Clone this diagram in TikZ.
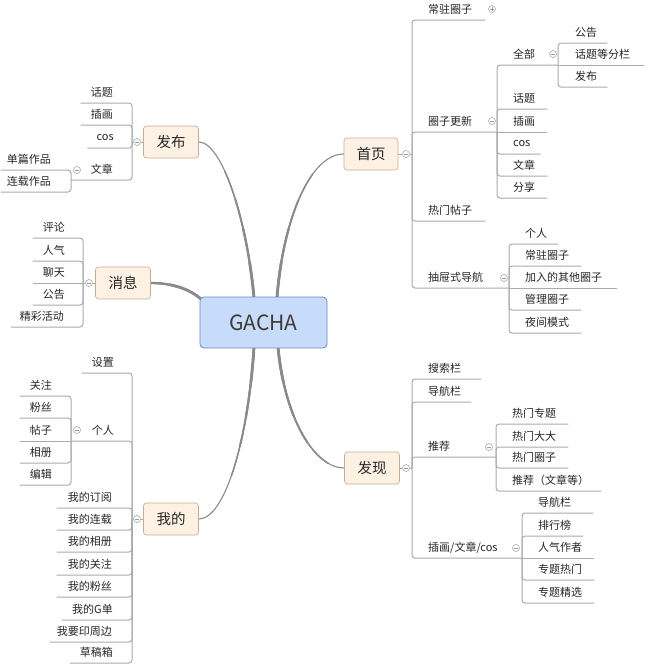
\documentclass[tikz,border=0pt]{standalone}
\usepackage{fontspec}
\setmainfont{Noto Sans CJK SC}
\usepackage{tikz}
\usetikzlibrary{positioning,backgrounds}
\definecolor{rootfill}{HTML}{C7DCFB}
\definecolor{rootline}{HTML}{7089BA}
\definecolor{rootink}{HTML}{3F3A36}
\definecolor{topicfill}{HTML}{FDF1E4}
\definecolor{topicline}{HTML}{C9AD8F}
\definecolor{branchgray}{HTML}{ABABAB}
\definecolor{trunkgray}{HTML}{8A8A8A}
\definecolor{foldgray}{HTML}{9A9A9A}
\definecolor{leafink}{HTML}{262626}

\begin{document}
\begin{tikzpicture}[x=1pt,y=-1pt,
 rootbox/.style={draw=rootline,fill=rootfill,rounded corners=4pt,line width=.8pt,minimum width=127pt,minimum height=51pt,text=rootink,font=\fontsize{21}{24}\selectfont},
 topicbox/.style={draw=topicline,fill=topicfill,rounded corners=3pt,line width=.6pt,minimum width=55pt,minimum height=32pt,text=leafink,font=\fontsize{14.5}{16}\selectfont},
 leaf/.style={inner xsep=0pt,inner ysep=0pt,minimum height=21pt,text=leafink,font=\fontsize{11}{12}\selectfont},
 rl/.style={leaf,anchor=south west},
 ll/.style={leaf,anchor=south east},
 br/.style={draw=branchgray,line width=1pt,rounded corners=3pt},
 trunk/.style={draw=trunkgray,line width=1.1pt,line cap=round,
  preaction={draw=trunkgray,line width=1.5pt,line cap=round,dash pattern=on 130pt off 2000pt},
  preaction={draw=trunkgray,line width=1.9pt,line cap=round,dash pattern=on 100pt off 2000pt},
  preaction={draw=trunkgray,line width=2.3pt,line cap=round,dash pattern=on 70pt off 2000pt},
  preaction={draw=trunkgray,line width=2.8pt,line cap=round,dash pattern=on 35pt off 2000pt}},
 foldc/.style={circle,draw=foldgray,fill=white,line width=.5pt,inner sep=0pt,minimum size=7pt,
  path picture={\draw[foldgray,line width=.5pt] ([xshift=-2pt]path picture bounding box.center) -- ([xshift=2pt]path picture bounding box.center);}},
 unfoldc/.style={foldc,
  path picture={\draw[foldgray,line width=.5pt] ([xshift=-2pt]path picture bounding box.center) -- ([xshift=2pt]path picture bounding box.center)
   ([yshift=-2pt]path picture bounding box.center) -- ([yshift=2pt]path picture bounding box.center);}}]
\useasboundingbox (0,0) rectangle (656,664);

% centre and main topics
\node[rootbox] (gacha) at (263.5,322.5) {GACHA};
\node[topicbox,minimum width=54pt] (sy) at (371,154) {首页};
\node[topicbox] (fx) at (372,468) {发现};
\node[topicbox] (fb) at (171,142) {发布};
\node[topicbox] (xx) at (123,283) {消息};
\node[topicbox] (wd) at (171,519) {我的};
\begin{scope}[on background layer]
\fill[white] (0,0) rectangle (656,664);
\draw[trunk] ([xshift=13.5pt,yshift=-1pt]gacha.north) .. controls (283,220) and (310,154) .. (sy.west);
\draw[trunk] ([xshift=14.5pt,yshift=1pt]gacha.south) .. controls (285,420) and (315,468) .. (fx.west);
\draw[trunk] ([xshift=-9.5pt,yshift=-1pt]gacha.north) .. controls (247,220) and (222,142) .. (fb.east);
\draw[trunk] ([xshift=-9.5pt,yshift=1pt]gacha.south) .. controls (248,440) and (225,519) .. (wd.east);
\draw[trunk] ([shift={(2pt,-3pt)}]gacha.north west) .. controls (190,289) and (172,283) .. (xx.east);
\end{scope}

% fold circles and junctions
\node[foldc] (syc) at (406,154) {};
\node[foldc] (fxc) at (406,468) {};
\node[foldc] (fbc) at (137,142) {};
\node[foldc] (xxc) at (89,283) {};
\node[foldc] (wdc) at (137,519) {};
\coordinate (syj) at (412,154);
\coordinate (fxj) at (412,468);
\coordinate (fbj) at (132,142);
\coordinate (xxj) at (83,283);
\coordinate (wdj) at (132,519);
\draw[br] (sy.east) -- (syc.west) (syc.east) -- (syj);
\draw[br] (fx.east) -- (fxc.west) (fxc.east) -- (fxj);
\draw[br] (fb.west) -- (fbc.east) (fbc.west) -- (fbj);
\draw[br] (xx.west) -- (xxc.east) (xxc.west) -- (xxj);
\draw[br] (wd.west) -- (wdc.east) (wdc.west) -- (wdj);

% 首页
\node[rl] (cz) at (428,20) {常驻圈子};
\node[rl] (qz) at (428,132) {圈子更新};
\node[rl] (rt) at (428,221) {热门帖子};
\node[rl] (ct) at (428,288) {抽屉式导航};
\node[unfoldc] (czc) at (492,9) {};
\node[foldc] (qzc) at (492,121) {};
\node[foldc] (ctc) at (504,278) {};
\coordinate (qzj) at (497,132);
\coordinate (ctj) at (509,288);
\draw[br] (syj) |- ([xshift=13pt]cz.south east);
\draw[br] (syj) |- (qzj);
\draw[br] (syj) |- ([xshift=13pt]rt.south east);
\draw[br] (syj) |- (ctj);

\node[rl] (qb) at (513,65) {全部};
\node[rl] (ht) at (513,109) {话题};
\node[rl] (ch) at (513,132) {插画};
\node[rl] (cs) at (513,154) {cos};
\node[rl] (wz) at (513,176) {文章};
\node[rl] (fx1) at (513,198) {分享};
\node[foldc] (qbc) at (553,54) {};
\coordinate (qbj) at (558,65);
\draw[br] (qzj) |- (qbj);
\draw[br] (qzj) |- ([xshift=12pt]ht.south east);
\draw[br] (qzj) -- ([xshift=12pt]ch.south east);
\draw[br] (qzj) |- ([xshift=10pt]cs.south east);
\draw[br] (qzj) |- ([xshift=12pt]wz.south east);
\draw[br] (qzj) |- ([xshift=12pt]fx1.south east);

\node[rl] (gg) at (575,43) {公告};
\node[rl] (fl) at (575,65) {话题等分栏};
\node[rl] (fb1) at (575,87) {发布};
\draw[br] (qbj) |- ([xshift=10pt]gg.south east);
\draw[br] (qbj) -- ([xshift=14pt]fl.south east);
\draw[br] (qbj) |- ([xshift=10pt]fb1.south east);

\node[rl] (gr) at (525,244) {个人};
\node[rl] (cz1) at (525,266) {常驻圈子};
\node[rl] (jr) at (525,288) {加入的其他圈子};
\node[rl] (gl) at (525,310) {管理圈子};
\node[rl] (yj) at (525,333) {夜间模式};
\draw[br] (ctj) |- ([xshift=11pt]gr.south east);
\draw[br] (ctj) |- ([xshift=12pt]cz1.south east);
\draw[br] (ctj) -- ([xshift=15pt]jr.south east);
\draw[br] (ctj) |- ([xshift=12pt]gl.south east);
\draw[br] (ctj) |- ([xshift=12pt]yj.south east);

% 发现
\node[rl] (ss) at (428,379) {搜索栏};
\node[rl] (dh) at (428,402) {导航栏};
\node[rl] (tj) at (428,457) {推荐};
\node[rl] (cw) at (428,558) {插画/文章/cos};
\node[foldc] (tjc) at (489,447) {};
\node[foldc] (cwc) at (516,548) {};
\coordinate (tjj) at (496,457);
\coordinate (cwj) at (522,558);
\draw[br] (fxj) |- ([xshift=20pt]ss.south east);
\draw[br] (fxj) |- ([xshift=10pt]dh.south east);
\draw[br] (fxj) |- (tjj);
\draw[br] (fxj) |- (cwj);

\node[rl] (rz) at (512,424) {热门专题};
\node[rl] (rd) at (512,447) {热门大大};
\node[rl] (rq) at (512,468) {热门圈子};
\node[rl] (tw) at (512,491) {推荐（文章等）};
\draw[br] (tjj) |- ([xshift=12pt]rz.south east);
\draw[br] (tjj) |- ([xshift=12pt]rd.south east);
\draw[br] (tjj) |- ([xshift=12pt]rq.south east);
\draw[br] (tjj) |- ([xshift=12pt]tw.south east);

\node[rl] (dh1) at (538,513) {导航栏};
\node[rl] (ph) at (538,536) {排行榜};
\node[rl] (rq1) at (538,558) {人气作者};
\node[rl] (zr) at (538,580) {专题热门};
\node[rl] (zj) at (538,603) {专题精选};
\draw[br] (cwj) |- ([xshift=22pt]dh1.south east);
\draw[br] (cwj) |- ([xshift=12pt]ph.south east);
\draw[br] (cwj) -- ([xshift=12pt]rq1.south east);
\draw[br] (cwj) |- ([xshift=12pt]zr.south east);
\draw[br] (cwj) |- ([xshift=12pt]zj.south east);

% 发布
\node[ll] (fht) at (113,103) {话题};
\node[ll] (fch) at (113,125) {插画};
\node[ll] (fcs) at (114,148) {cos};
\node[ll] (fwz) at (113,180) {文章};
\node[foldc] (fwzc) at (77,170) {};
\coordinate (fwzj) at (71,180);
\draw[br] (fbj) |- ([xshift=-10pt]fht.south west);
\draw[br] (fbj) |- ([xshift=-10pt]fch.south west);
\draw[br] (fbj) |- ([xshift=-9pt]fcs.south west);
\draw[br] (fbj) |- (fwzj);

\node[ll] (dp) at (51,170) {单篇作品};
\node[ll] (lz) at (51,192) {连载作品};
\draw[br] (fwzj) |- ([xshift=-6pt]dp.south west);
\draw[br] (fwzj) |- ([xshift=-6pt]lz.south west);

% 消息
\node[ll] (pl) at (65,238) {评论};
\node[ll] (rq2) at (65,261) {人气};
\node[ll] (lt) at (65,283) {聊天};
\node[ll] (xg) at (65,305) {公告};
\node[ll] (jc) at (64,327) {精彩活动};
\draw[br] (xxj) |- ([xshift=-10pt]pl.south west);
\draw[br] (xxj) |- ([xshift=-10pt]rq2.south west);
\draw[br] (xxj) -- ([xshift=-10pt]lt.south west);
\draw[br] (xxj) |- ([xshift=-10pt]xg.south west);
\draw[br] (xxj) |- ([xshift=-9pt]jc.south west);

% 我的
\node[ll] (sz) at (114,373) {设置};
\node[ll] (wgr) at (114,441) {个人};
\node[ll] (dy) at (112,508) {我的订阅};
\node[ll] (wl) at (112,530) {我的连载};
\node[ll] (wx) at (112,552) {我的相册};
\node[ll] (wg) at (112,575) {我的关注};
\node[ll] (wf) at (112,597) {我的粉丝};
\node[ll] (gd) at (113,620) {我的G单};
\node[ll] (yz) at (112,642) {我要印周边};
\node[ll] (cg) at (113,663) {草稿箱};
\node[foldc] (wgrc) at (77,430) {};
\coordinate (wgrj) at (71,441);
\draw[br] (wdj) |- ([xshift=-10pt]sz.south west);
\draw[br] (wdj) |- (wgrj);
\draw[br] (wdj) |- ([xshift=-11pt]dy.south west);
\draw[br] (wdj) |- ([xshift=-11pt]wl.south west);
\draw[br] (wdj) |- ([xshift=-11pt]wx.south west);
\draw[br] (wdj) |- ([xshift=-11pt]wg.south west);
\draw[br] (wdj) |- ([xshift=-11pt]wf.south west);
\draw[br] (wdj) |- ([xshift=-10pt]gd.south west);
\draw[br] (wdj) |- ([xshift=-7pt]yz.south west);
\draw[br] (wdj) |- ([xshift=-10pt]cg.south west);

\node[ll] (gz) at (52,396) {关注};
\node[ll] (fs) at (52,418) {粉丝};
\node[ll] (tz) at (52,441) {帖子};
\node[ll] (xc) at (52,463) {相册};
\node[ll] (bj) at (52,485) {编辑};
\draw[br] (wgrj) |- ([xshift=-10pt]gz.south west);
\draw[br] (wgrj) |- ([xshift=-10pt]fs.south west);
\draw[br] (wgrj) -- ([xshift=-10pt]tz.south west);
\draw[br] (wgrj) |- ([xshift=-10pt]xc.south west);
\draw[br] (wgrj) |- ([xshift=-10pt]bj.south west);
\end{tikzpicture}
\end{document}
